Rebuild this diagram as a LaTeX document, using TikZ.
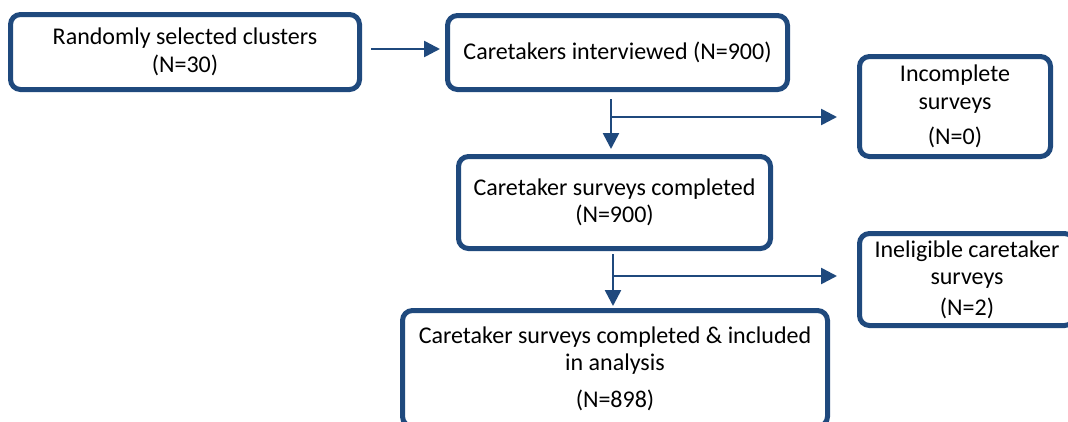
\documentclass[tikz,border=0pt]{standalone}
\usepackage{fontspec}
\setmainfont{Carlito}
\usetikzlibrary{arrows.meta,calc}
\definecolor{boxblue}{RGB}{31,73,125}
\tikzset{
  box/.style={draw=boxblue, line width=5pt, rounded corners=10pt, fill=white,
    inner sep=0pt, align=center, font=\fontsize{24}{27.5}\selectfont, text=black},
  arr/.style={draw=boxblue, line width=2.6pt, -{Triangle[length=16pt,width=16pt]}}
}
\begin{document}
\begin{tikzpicture}[x=1pt,y=-1pt]
\useasboundingbox (0,0) rectangle (1068,421);
\clip (0,0) rectangle (1068,421);
\node[box, minimum width=349pt, minimum height=75pt] (b1) at (185,52) {Randomly selected clusters\\(N=30)};
\node[box, minimum width=340pt, minimum height=74pt] (b2) at (617.5,52.5) {Caretakers interviewed (N=900)};
\node[box, minimum width=191pt, minimum height=100pt] (b3) at (955,106.5) {Incomplete\\surveys\\[8pt](N=0)};
\node[box, minimum width=312pt, minimum height=92pt] (b4) at (614.5,202.5) {Caretaker surveys completed\\(N=900)};
\node[box, minimum width=215pt, minimum height=92pt] (b5) at (967,279.5) {Ineligible caretaker\\surveys\\[3pt](N=2)};
\node[box, minimum width=425pt, minimum height=116pt] (b6) at (615,368.5) {Caretaker surveys completed \& included\\in analysis\\[9pt](N=898)};
% top arrow
\draw[arr, shorten <=9pt, shorten >=5pt] ([yshift=3pt]b1.east) -- ([yshift=3pt]b1.east -| b2.west);
% from b2 down
\coordinate (s1) at ([xshift=-6.5pt,yshift=-7pt]b2.south);
\coordinate (j1) at ($(s1)+(0,18)$);
\draw[arr, shorten >=5pt] (s1) -- (s1 |- b4.north);
\draw[arr, shorten >=20pt] (j1) -- (j1 -| b3.west);
% from b4 down
\coordinate (s2) at ([xshift=-1.5pt,yshift=-3pt]b4.south);
\coordinate (j2) at ($(s2)+(0,22)$);
\draw[arr, shorten >=2pt] (s2) -- (s2 |- b6.north);
\draw[arr, shorten >=20pt] (j2) -- (j2 -| b5.west);
\end{tikzpicture}
\end{document}
